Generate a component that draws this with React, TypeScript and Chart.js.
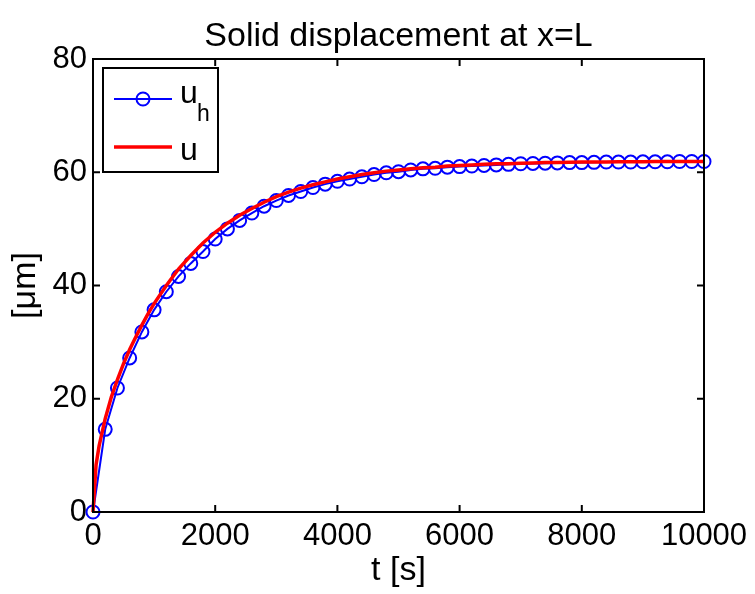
import { useEffect, useRef } from "react";
import { Chart, registerables } from "chart.js";

Chart.register(...registerables);

// Numerical solution u_h, sampled every 200 s
const T_NUM = [
  0, 200, 400, 600, 800, 1000, 1200, 1400, 1600, 1800,
  2000, 2200, 2400, 2600, 2800, 3000, 3200, 3400, 3600, 3800,
  4000, 4200, 4400, 4600, 4800, 5000, 5200, 5400, 5600, 5800,
  6000, 6200, 6400, 6600, 6800, 7000, 7200, 7400, 7600, 7800,
  8000, 8200, 8400, 8600, 8800, 9000, 9200, 9400, 9600, 9800, 10000,
];
const U_NUM = [
  0, 14.6, 21.9, 27.2, 31.8, 35.7, 38.9, 41.6, 43.9, 46.0,
  48.2, 50.0, 51.5, 52.8, 54.0, 55.0, 55.9, 56.6, 57.3, 57.9,
  58.4, 58.8, 59.2, 59.6, 59.9, 60.1, 60.4, 60.6, 60.7, 60.9,
  61.0, 61.1, 61.2, 61.3, 61.4, 61.5, 61.55, 61.6, 61.65, 61.7,
  61.7, 61.75, 61.8, 61.8, 61.8, 61.85, 61.85, 61.85, 61.9, 61.9, 61.9,
];

// Analytical solution u
const T_EXACT = [
  0, 50, 100, 200, 300, 400, 500, 600, 700, 800, 900, 1000,
  1200, 1400, 1600, 1800, 2000, 2200, 2400, 2600, 2800, 3000,
  3200, 3400, 3600, 3800, 4000, 4200, 4400, 4600, 4800, 5000,
  5200, 5400, 5600, 5800, 6000, 6200, 6400, 6600, 6800, 7000,
  7200, 7400, 7600, 7800, 8000, 8200, 8400, 8600, 8800, 9000,
  9200, 9400, 9600, 9800, 10000,
];
const U_EXACT = [
  0, 8.3, 11.7, 16.5, 20.3, 23.4, 26.2, 28.7, 30.9, 33.0, 35.0, 36.8,
  40.0, 42.9, 45.3, 47.5, 49.4, 51.0, 52.4, 53.6, 54.7, 55.7,
  56.5, 57.2, 57.8, 58.3, 58.8, 59.2, 59.6, 59.9, 60.2, 60.4,
  60.6, 60.8, 60.9, 61.1, 61.2, 61.3, 61.4, 61.5, 61.5, 61.6,
  61.65, 61.7, 61.7, 61.75, 61.8, 61.8, 61.8, 61.85, 61.85, 61.85,
  61.9, 61.9, 61.9, 61.9, 61.9,
];

const X_TICKS = [0, 2000, 4000, 6000, 8000, 10000];
const Y_TICKS = [0, 20, 40, 60, 80];

const TITLE = "Solid displacement at x=L";
const X_LABEL = "t [s]";
const Y_LABEL = "[\u03bcm]";

const FONT = "'Liberation Sans', Arial, Helvetica, sans-serif";
const BLUE = "#0000ff";
const RED = "#ff0000";

// Box around the axes, inward tick marks, titles and the legend
const decorations = {
  id: "decorations",
  afterDatasetsDraw(chart: any) {
    const { ctx, chartArea: a, scales } = chart;
    const tick = 7;
    ctx.save();
    ctx.strokeStyle = "#000";
    ctx.lineWidth = 2;
    ctx.strokeRect(a.left, a.top, a.right - a.left, a.bottom - a.top);
    ctx.beginPath();
    for (const v of X_TICKS) {
      const px = scales.x.getPixelForValue(v);
      ctx.moveTo(px, a.bottom);
      ctx.lineTo(px, a.bottom - tick);
      ctx.moveTo(px, a.top);
      ctx.lineTo(px, a.top + tick);
    }
    for (const v of Y_TICKS) {
      const py = scales.y.getPixelForValue(v);
      ctx.moveTo(a.left, py);
      ctx.lineTo(a.left + tick, py);
      ctx.moveTo(a.right, py);
      ctx.lineTo(a.right - tick, py);
    }
    ctx.stroke();

    // legend
    const lx = a.left + 10;
    const ly = a.top + 9;
    const lw = 115;
    const lh = 104;
    ctx.fillStyle = "#fff";
    ctx.fillRect(lx, ly, lw, lh);
    ctx.strokeStyle = "#000";
    ctx.lineWidth = 2;
    ctx.strokeRect(lx, ly, lw, lh);

    const sx0 = lx + 11;
    const sx1 = lx + 69;
    const row1 = ly + 31;
    const row2 = ly + 79;
    ctx.strokeStyle = BLUE;
    ctx.lineWidth = 2;
    ctx.beginPath();
    ctx.moveTo(sx0, row1);
    ctx.lineTo(sx1, row1);
    ctx.stroke();
    ctx.beginPath();
    ctx.arc((sx0 + sx1) / 2, row1, 6.5, 0, Math.PI * 2);
    ctx.stroke();

    ctx.strokeStyle = RED;
    ctx.lineWidth = 3.5;
    ctx.beginPath();
    ctx.moveTo(sx0, row2);
    ctx.lineTo(sx1, row2);
    ctx.stroke();

    ctx.fillStyle = "#000";
    ctx.textAlign = "left";
    ctx.textBaseline = "alphabetic";
    ctx.font = `32px ${FONT}`;
    ctx.fillText("u", lx + 77, row1 + 4);
    ctx.fillText("u", lx + 77, row2 + 13);
    ctx.font = `23px ${FONT}`;
    ctx.fillText("h", lx + 94, row1 + 22);
    ctx.restore();
  },
  afterDraw(chart: any) {
    const { ctx, chartArea: a } = chart;
    const cx = (a.left + a.right) / 2;
    ctx.save();
    ctx.fillStyle = "#000";
    ctx.textAlign = "center";
    ctx.textBaseline = "alphabetic";
    ctx.font = `34px ${FONT}`;
    ctx.fillText(TITLE, cx, 46);
    ctx.fillText(X_LABEL, cx, 580);
    ctx.translate(35, (a.top + a.bottom) / 2);
    ctx.rotate(-Math.PI / 2);
    ctx.fillText(Y_LABEL, 0, 0);
    ctx.restore();
  },
};

export default function App() {
  const canvasRef = useRef<HTMLCanvasElement | null>(null);

  useEffect(() => {
    const canvas = canvasRef.current;
    if (!canvas) return;
    const chart = new Chart(canvas, {
      type: "line",
      data: {
        datasets: [
          {
            label: "u_h",
            data: T_NUM.map((t, i) => ({ x: t, y: U_NUM[i] })),
            borderColor: BLUE,
            borderWidth: 2,
            pointStyle: "circle",
            pointRadius: 6.5,
            pointBorderWidth: 2,
            pointBorderColor: BLUE,
            pointBackgroundColor: "rgba(0,0,0,0)",
            fill: false,
            tension: 0,
            clip: false as any,
            order: 1,
          },
          {
            label: "u",
            data: T_EXACT.map((t, i) => ({ x: t, y: U_EXACT[i] })),
            borderColor: RED,
            borderWidth: 3.5,
            pointRadius: 0,
            fill: false,
            tension: 0,
            clip: false as any,
            order: 0,
          },
        ],
      },
      options: {
        animation: false,
        responsive: false,
        maintainAspectRatio: false,
        devicePixelRatio: 1,
        layout: { padding: { top: 59, right: 51, left: 0, bottom: 0 } },
        plugins: {
          legend: { display: false },
          title: { display: false },
          tooltip: { enabled: false },
        },
        scales: {
          x: {
            type: "linear",
            min: 0,
            max: 10000,
            afterBuildTicks: (s: any) => {
              s.ticks = X_TICKS.map((v) => ({ value: v }));
            },
            ticks: {
              color: "#000",
              font: { family: FONT, size: 31 },
              padding: 6,
              maxRotation: 0,
              autoSkip: false,
              callback: (v: any) => String(v),
            },
            grid: { display: false, drawTicks: false },
            border: { display: false },
            afterFit: (s: any) => {
              s.height = 82;
            },
          },
          y: {
            type: "linear",
            min: 0,
            max: 80,
            afterBuildTicks: (s: any) => {
              s.ticks = Y_TICKS.map((v) => ({ value: v }));
            },
            ticks: {
              color: "#000",
              font: { family: FONT, size: 31 },
              padding: 6,
              autoSkip: false,
              callback: (v: any) => String(v),
            },
            grid: { display: false, drawTicks: false },
            border: { display: false },
            afterFit: (s: any) => {
              s.width = 93;
            },
          },
        },
      },
      plugins: [decorations],
    });
    return () => chart.destroy();
  }, []);

  return (
    <div style={{ position: "fixed", left: 0, top: 0, width: 755, height: 594, background: "#fff" }}>
      <canvas ref={canvasRef} width={755} height={594} style={{ display: "block" }} />
    </div>
  );
}
